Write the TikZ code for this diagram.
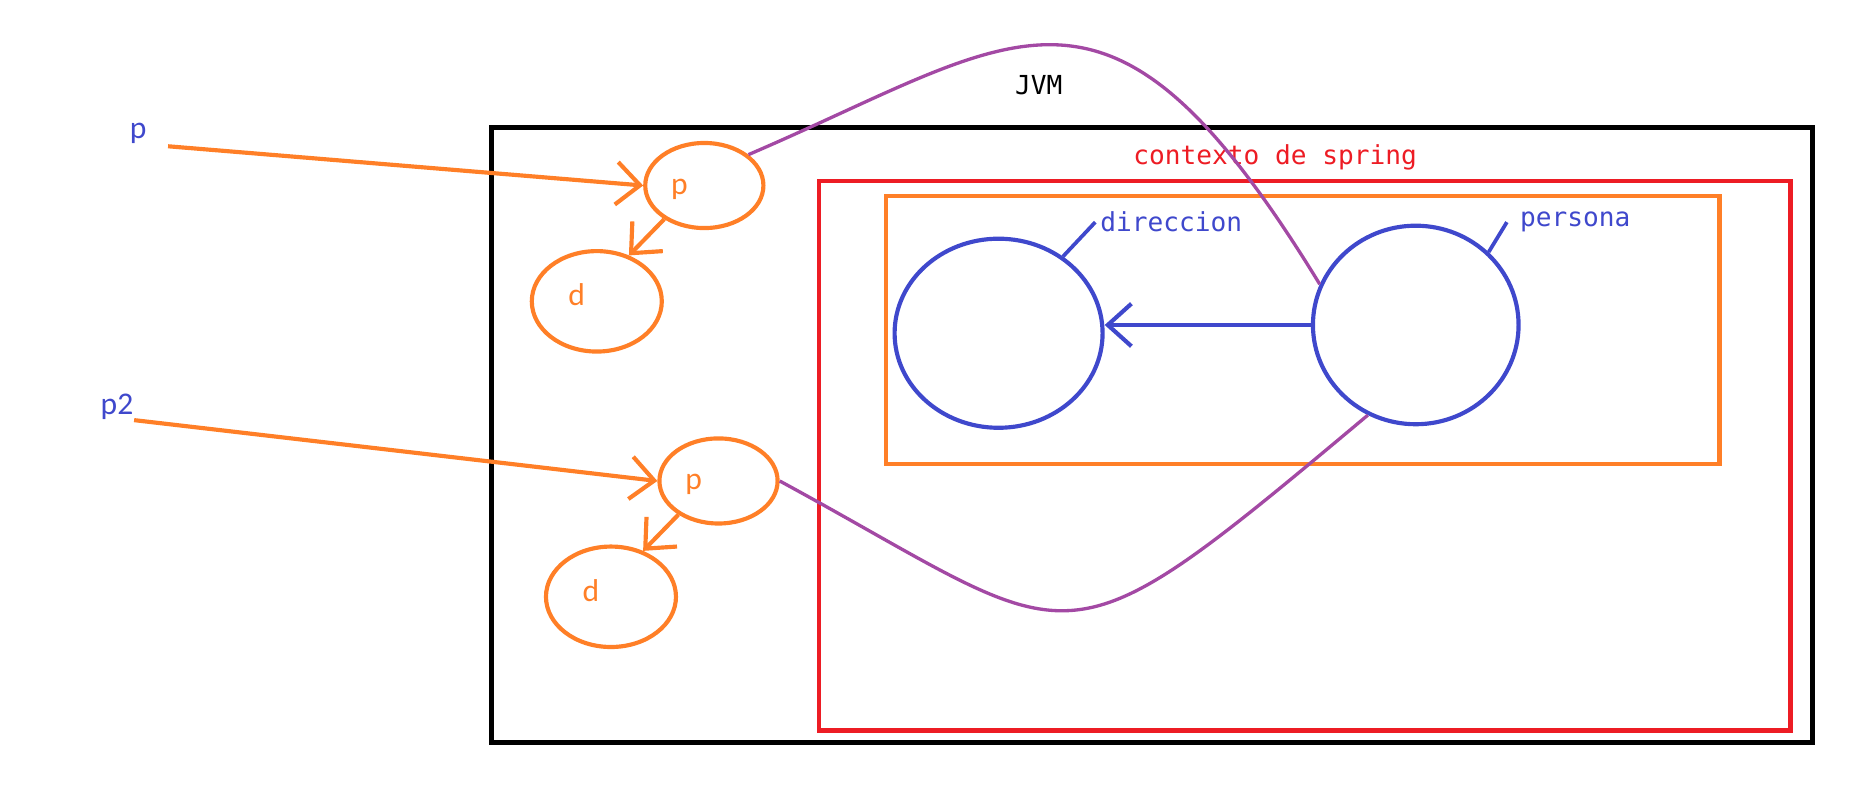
\documentclass[tikz,border=0pt]{standalone}
\usepackage{xcolor}
\usepackage{tikz}
\usepackage{fontspec}
\usetikzlibrary{shapes.geometric, arrows.meta, positioning}
\newfontfamily\codefont{DejaVu Sans Mono}
\newfontfamily\handfont{Carlito}
\definecolor{jvmblack}{HTML}{000000}
\definecolor{springred}{HTML}{ED1C24}
\definecolor{refornge}{HTML}{FF7F27}
\definecolor{beanblue}{HTML}{3F48CC}
\definecolor{linkpurple}{HTML}{A349A4}
\tikzset{
    codetext/.style={font=\codefont\fontsize{6.3}{7}\selectfont, inner sep=0pt},
    handtext/.style={font=\handfont\fontsize{7.6}{8}\selectfont, inner sep=0pt},
    refobj/.style={ellipse, draw=refornge, line width=1pt, inner sep=0pt},
    beanobj/.style={ellipse, draw=beanblue, line width=1pt, inner sep=0pt},
    refarrow/.style={draw=refornge, line width=1pt, -{Straight Barb[length=2mm,width=3.6mm]}},
    beanarrow/.style={draw=beanblue, line width=1pt, -{Straight Barb[length=2mm,width=3.6mm]}},
    tick/.style={draw=beanblue, line width=0.9pt},
    reflink/.style={draw=linkpurple, line width=0.8pt}
}

\begin{document}
\begin{tikzpicture}
    \useasboundingbox (0,0) rectangle (15.68,6.79);
    % Containers
    \draw[jvmblack, line width=1.2pt] (4.16,0.51) rectangle (15.34,5.71);
    \draw[springred, line width=1.1pt] (6.93,0.61) rectangle (15.15,5.26);
    \draw[refornge, line width=1pt] (7.50,2.86) rectangle (14.55,5.13);
    \node[codetext, text=jvmblack] (jvm) at (8.79,6.07) {JVM};
    \node[codetext, text=springred] (ctx) at (10.79,5.46) {contexto de spring};

    % Beans in the spring context
    \node[beanobj, minimum width=1.76cm, minimum height=1.60cm] (dir) at (8.45,3.97) {};
    \node[beanobj, minimum width=1.74cm, minimum height=1.68cm] (pers) at (11.98,4.04) {};
    \node[codetext, text=beanblue] (dirl) at (9.91,4.91) {direccion};
    \node[codetext, text=beanblue] (persl) at (13.33,4.91) {persona};
    \draw[tick] (dir.50) -- ([xshift=-1pt]dirl.west);
    \draw[tick] (pers.45) -- ([xshift=-3pt]persl.west);
    \draw[beanarrow] (pers.west) -- (pers.west -| dir.east);

    % Objects created with new
    \node[refobj, minimum width=1.00cm, minimum height=0.72cm] (pa) at (5.96,5.22) {};
    \node[refobj, minimum width=1.10cm, minimum height=0.85cm] (da) at (5.05,4.24) {};
    \node[refobj, minimum width=1.00cm, minimum height=0.72cm] (pb) at (6.08,2.72) {};
    \node[refobj, minimum width=1.10cm, minimum height=0.85cm] (db) at (5.17,1.74) {};
    \node[handtext, text=refornge] (pal) at (5.75,5.19) {p};
    \node[handtext, text=refornge] (dal) at (4.88,4.30) {d};
    \node[handtext, text=refornge] (pbl) at (5.87,2.69) {p};
    \node[handtext, text=refornge] (dbl) at (5.00,1.79) {d};
    \draw[refarrow] (pa.220) -- (da.55);
    \draw[refarrow] (pb.220) -- (db.55);

    % Variables
    \node[handtext, text=beanblue] (pvar) at (1.17,5.66) {p};
    \node[handtext, text=beanblue] (p2var) at (0.99,3.35) {p2};
    \draw[refarrow, shorten <=5pt] (pvar.south east) -- (pa.west);
    \draw[refarrow] (p2var.south east) -- (pb.west);

    % Links to the beans
    \draw[reflink] (pa.35) .. controls (8.66,6.48) and (9.37,7.325) .. (pers.157);
    \draw[reflink] (pb.east) .. controls (9.195,1.31) and (8.88,1.02) .. (pers.242);
\end{tikzpicture}
\end{document}
